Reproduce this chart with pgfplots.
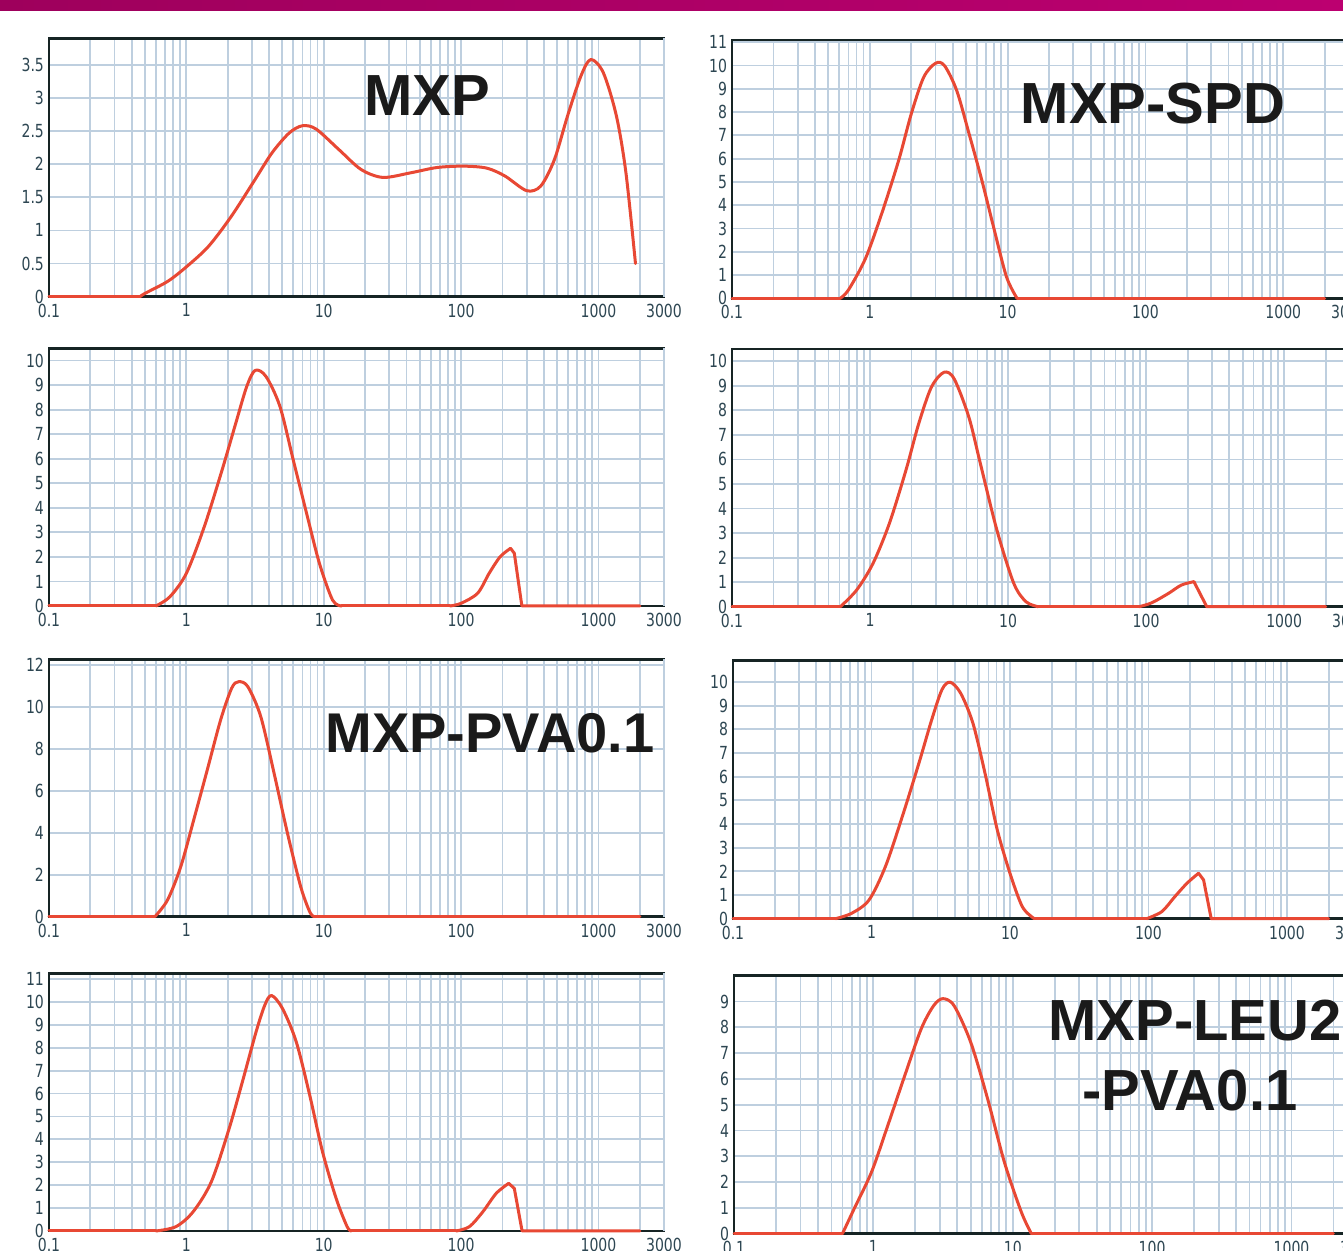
\documentclass[border=0pt]{standalone}
\usepackage{fontspec}
\usepackage{pgfplots}
\pgfplotsset{compat=1.18}
\usetikzlibrary{shadings}
\setmainfont{Liberation Sans}
\newfontfamily\tickfont[FakeStretch=0.78]{DejaVu Sans}
\newfontfamily\titlefont{Liberation Sans}
\definecolor{curvec}{RGB}{232,72,52}
\definecolor{gridc}{RGB}{190,207,223}
\definecolor{framec}{RGB}{22,36,36}
\definecolor{tickc}{RGB}{45,70,82}
\definecolor{barl}{RGB}{158,0,92}
\definecolor{barr}{RGB}{188,0,112}
\pgfkeys{/pgf/number format/assume math mode=true}
\pgfplotsset{
  curve/.style={draw=curvec, line width=1.5pt, line join=round, line cap=round, mark=none, smooth, tension=0.5},
  flat/.style={draw=curvec, line width=1.5pt, line join=round, line cap=round, mark=none, sharp plot},
  psd/.style={
    xmin=0.1, xmax=3000, ymin=0,
    scale only axis, anchor=south west,
    axis line style={line width=1.3pt, draw=framec},
    xtick={0.1,1,10,100,1000},
    xticklabels={0.1,1,10,100,1000},
    extra x ticks={3000}, extra x tick labels={3000},
    minor xtick={0.2,0.3,0.4,0.5,0.6,0.7,0.8,0.9,2,3,4,5,6,7,8,9,20,30,40,50,60,70,80,90,200,300,400,500,600,700,800,900,2000},
    xmajorgrids=true, xminorgrids=true, ymajorgrids=true,
    major grid style={draw=gridc, line width=0.9pt},
    minor grid style={draw=gridc, line width=0.9pt},
    major tick length=0pt, minor tick length=0pt,
    tick label style={font=\tickfont\fontsize{9}{9}\selectfont, text=tickc},
    scaled y ticks=false,
    yticklabel style={xshift=1pt},
    clip=false,
  }
}
\begin{document}
\begin{tikzpicture}
\path[use as bounding box] (0,0) rectangle (671.5pt,625.5pt);
\clip (0,0) rectangle (671.5pt,625.5pt);
\fill[white] (0,0) rectangle (671.5pt,625.5pt);
\shade[left color=barl, right color=barr] (0,620pt) rectangle (671.5pt,625.5pt);

% Row 1 left: MXP
\begin{semilogxaxis}[psd, at={(24.5pt,477.15pt)}, width=307.5pt, height=129.2pt, ymax=3.9,
  ytick={0,0.5,1,1.5,2,2.5,3,3.5}]
\addplot[flat] coordinates {(0.1,0) (0.46,0)};
\addplot[curve] coordinates {(0.46,0) (0.5,0.05) (0.73,0.23) (1.0,0.45) (1.45,0.76) (2.12,1.21) (3.1,1.74) (4.2,2.17) (5.6,2.47) (7.0,2.58) (8.8,2.53) (12.9,2.22) (18.7,1.92) (27,1.80) (43,1.87) (67,1.95) (105,1.97) (154,1.94) (209,1.82) (300,1.6) (380,1.67) (478,2.07) (596,2.73) (745,3.33) (880,3.58) (1085,3.38) (1350,2.73) (1585,1.87) (1860,0.5)};
\end{semilogxaxis}

% Row 1 right: MXP-SPD
\begin{semilogxaxis}[psd, at={(366pt,476.35pt)}, width=308.5pt, height=129.15pt, ymax=11.1,
  ytick={0,1,2,3,4,5,6,7,8,9,10,11}]
\addplot[flat] coordinates {(0.1,0) (0.61,0)};
\addplot[curve] coordinates {(0.61,0) (0.70,0.36) (0.93,1.71) (1.22,3.64) (1.62,5.93) (2.0,7.93) (2.46,9.5) (3.0,10.1) (3.48,10.0) (4.27,8.93) (5.25,7.07) (6.5,5.07) (7.9,3.07) (9.8,0.93) (11.7,0)};
\addplot[flat] coordinates {(11.7,0) (2000,0)};
\end{semilogxaxis}

% Row 2 left
\begin{semilogxaxis}[psd, at={(24.5pt,322.5pt)}, width=307.5pt, height=128.85pt, ymax=10.5,
  ytick={0,1,2,3,4,5,6,7,8,9,10}]
\addplot[flat] coordinates {(0.1,0) (0.60,0)};
\addplot[curve] coordinates {(0.60,0) (0.76,0.38) (1.0,1.33) (1.35,3.23) (1.82,5.54) (2.29,7.45) (2.75,8.94) (3.17,9.6) (3.8,9.35) (4.8,8.13) (6.0,5.95) (7.5,3.78) (9.3,1.74) (11.6,0.24) (13.5,0)};
\addplot[flat] coordinates {(13.5,0) (83,0)};
\addplot[curve] coordinates {(83,0) (100,0.11) (132,0.52) (160,1.33) (192,2.0) (229,2.35)};
\addplot[flat] coordinates {(229,2.35) (244,2.15) (277,0) (2000,0)};
\end{semilogxaxis}

% Row 2 right
\begin{semilogxaxis}[psd, at={(366pt,322.15pt)}, width=309pt, height=128.85pt, ymax=10.5,
  ytick={0,1,2,3,4,5,6,7,8,9,10}]
\addplot[flat] coordinates {(0.1,0) (0.61,0)};
\addplot[curve] coordinates {(0.61,0) (0.8,0.68) (1.05,1.76) (1.38,3.39) (1.82,5.56) (2.25,7.45) (2.78,8.94) (3.43,9.55) (4.07,9.28) (5.2,7.72) (6.3,5.83) (8.3,3.12) (11.0,0.95) (13.5,0.2) (16.5,0)};
\addplot[flat] coordinates {(16.5,0) (89,0)};
\addplot[curve] coordinates {(89,0) (110,0.16) (145,0.54) (180,0.88) (222,1.02)};
\addplot[flat] coordinates {(222,1.02) (275,0) (2000,0)};
\end{semilogxaxis}

% Row 3 left: MXP-PVA0.1
\begin{semilogxaxis}[psd, at={(24.5pt,167.15pt)}, width=307.5pt, height=128.7pt, ymax=12.27,
  ytick={0,2,4,6,8,10,12}]
\addplot[flat] coordinates {(0.1,0) (0.59,0)};
\addplot[curve] coordinates {(0.59,0) (0.73,0.8) (0.91,2.38) (1.13,4.6) (1.42,7.0) (1.78,9.4) (2.14,10.9) (2.4,11.2) (2.8,10.97) (3.48,9.54) (4.35,6.84) (5.45,3.97) (6.8,1.43) (7.9,0.24) (8.5,0)};
\addplot[flat] coordinates {(8.5,0) (2000,0)};
\end{semilogxaxis}

% Row 3 right
\begin{semilogxaxis}[psd, at={(366.5pt,166.15pt)}, width=310pt, height=129pt, ymax=10.9,
  ytick={0,1,2,3,4,5,6,7,8,9,10}]
\addplot[flat] coordinates {(0.1,0) (0.55,0)};
\addplot[curve] coordinates {(0.55,0) (0.72,0.23) (0.96,0.79) (1.26,2.2) (1.67,4.32) (2.2,6.57) (2.72,8.4) (3.23,9.68) (3.7,9.99) (4.4,9.53) (5.4,8.26) (6.6,6.15) (8.1,3.75) (10,1.92) (12.3,0.5) (15,0)};
\addplot[flat] coordinates {(15,0) (97,0)};
\addplot[curve] coordinates {(97,0) (125,0.3) (155,0.93) (190,1.5) (230,1.92)};
\addplot[flat] coordinates {(230,1.92) (250,1.64) (284,0) (2000,0)};
\end{semilogxaxis}

% Row 4 left
\begin{semilogxaxis}[psd, at={(24.5pt,10pt)}, width=307.5pt, height=128.85pt, ymax=11.25,
  ytick={0,1,2,3,4,5,6,7,8,9,10,11}]
\addplot[flat] coordinates {(0.1,0) (0.6,0)};
\addplot[curve] coordinates {(0.6,0) (0.84,0.19) (1.12,0.84) (1.52,2.15) (2.05,4.48) (2.56,6.52) (3.22,8.7) (3.73,9.87) (4.17,10.28) (5.0,9.72) (6.3,8.27) (7.9,5.94) (9.8,3.46) (12.3,1.43) (14.8,0.19) (15.9,0)};
\addplot[flat] coordinates {(15.9,0) (92,0)};
\addplot[curve] coordinates {(92,0) (115,0.19) (144,0.84) (180,1.64) (222,2.08)};
\addplot[flat] coordinates {(222,2.08) (244,1.86) (278,0) (2000,0)};
\end{semilogxaxis}

% Row 4 right: MXP-LEU2-PVA0.1
\begin{semilogxaxis}[psd, at={(367pt,8.65pt)}, width=312pt, height=129pt, ymax=10,
  ytick={0,1,2,3,4,5,6,7,8,9}]
\addplot[flat] coordinates {(0.1,0) (0.60,0)};
\addplot[curve] coordinates {(0.60,0) (0.73,0.98) (0.97,2.39) (1.27,4.2) (1.68,6.13) (2.2,7.93) (2.7,8.83) (3.15,9.11) (3.8,8.83) (5.0,7.41) (6.6,5.23) (8.7,2.78) (11.5,0.85) (13.6,0)};
\addplot[flat] coordinates {(13.6,0) (2000,0)};
\end{semilogxaxis}

\begin{scope}[every node/.style={font=\titlefont\bfseries\fontsize{29}{29}\selectfont, text={rgb,255:red,26;green,26;blue,26}, inner sep=0pt}]
\node at (213.5pt,577.5pt) {MXP};
\node at (576.5pt,573.5pt) {MXP-SPD};
\node[font=\titlefont\bfseries\fontsize{28}{28}\selectfont] at (245pt,259pt) {MXP-PVA0.1};
\node at (597.5pt,115pt) {MXP-LEU2};
\node at (595pt,80pt) {-PVA0.1};
\end{scope}
\end{tikzpicture}
\end{document}
